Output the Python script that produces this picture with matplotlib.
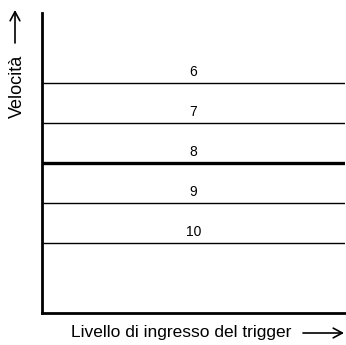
import matplotlib
matplotlib.use("Agg")
import matplotlib.pyplot as plt
from matplotlib.patches import FancyArrowPatch

levels = [6, 7, 8, 9, 10]
labels = ["6", "7", "8", "9", "10"]
line_widths = [1.0, 1.0, 2.4, 1.0, 1.0]
xlabel = "Livello di ingresso del trigger"
ylabel = "Velocità"

plt.rcParams['font.family'] = ['Liberation Sans', 'DejaVu Sans']

W, H = 346, 345
fig = plt.figure(figsize=(W / 100, H / 100), dpi=100)
left, right, top, bottom = 42, 345, 13, 313
ax = fig.add_axes([left / W, 1 - bottom / H, (right - left) / W, (bottom - top) / H])
ax.set_xlim(0, 1)
ax.set_ylim(11.75, 4.25)

for lv, lab, lw in zip(levels, labels, line_widths):
    ax.axhline(lv, color='black', lw=lw, xmin=0, xmax=1)
    ax.text(0.5, lv - 0.27, lab, ha='center', va='center', fontsize=10, color='black')

for s in ['top', 'right']:
    ax.spines[s].set_visible(False)
for s in ['left', 'bottom']:
    ax.spines[s].set_linewidth(2.0)
ax.set_xticks([])
ax.set_yticks([])

def fx(px):
    return px / W

def fy(py):
    return 1 - py / H

fig.text(fx(71), fy(333), xlabel, ha='left', va='center', fontsize=12.5)
fig.text(fx(17), fy(118), ylabel, ha='center', va='bottom', rotation=90, fontsize=13)

style = '->,head_length=6.5,head_width=3.5'
for (x0, y0, x1, y1) in [(303, 333, 344, 333), (15, 43, 15, 10)]:
    fig.add_artist(FancyArrowPatch((fx(x0), fy(y0)), (fx(x1), fy(y1)),
                                   transform=fig.transFigure, arrowstyle=style,
                                   lw=1.2, color='black', shrinkA=0, shrinkB=0))

fig.savefig("out.png", dpi=100)
